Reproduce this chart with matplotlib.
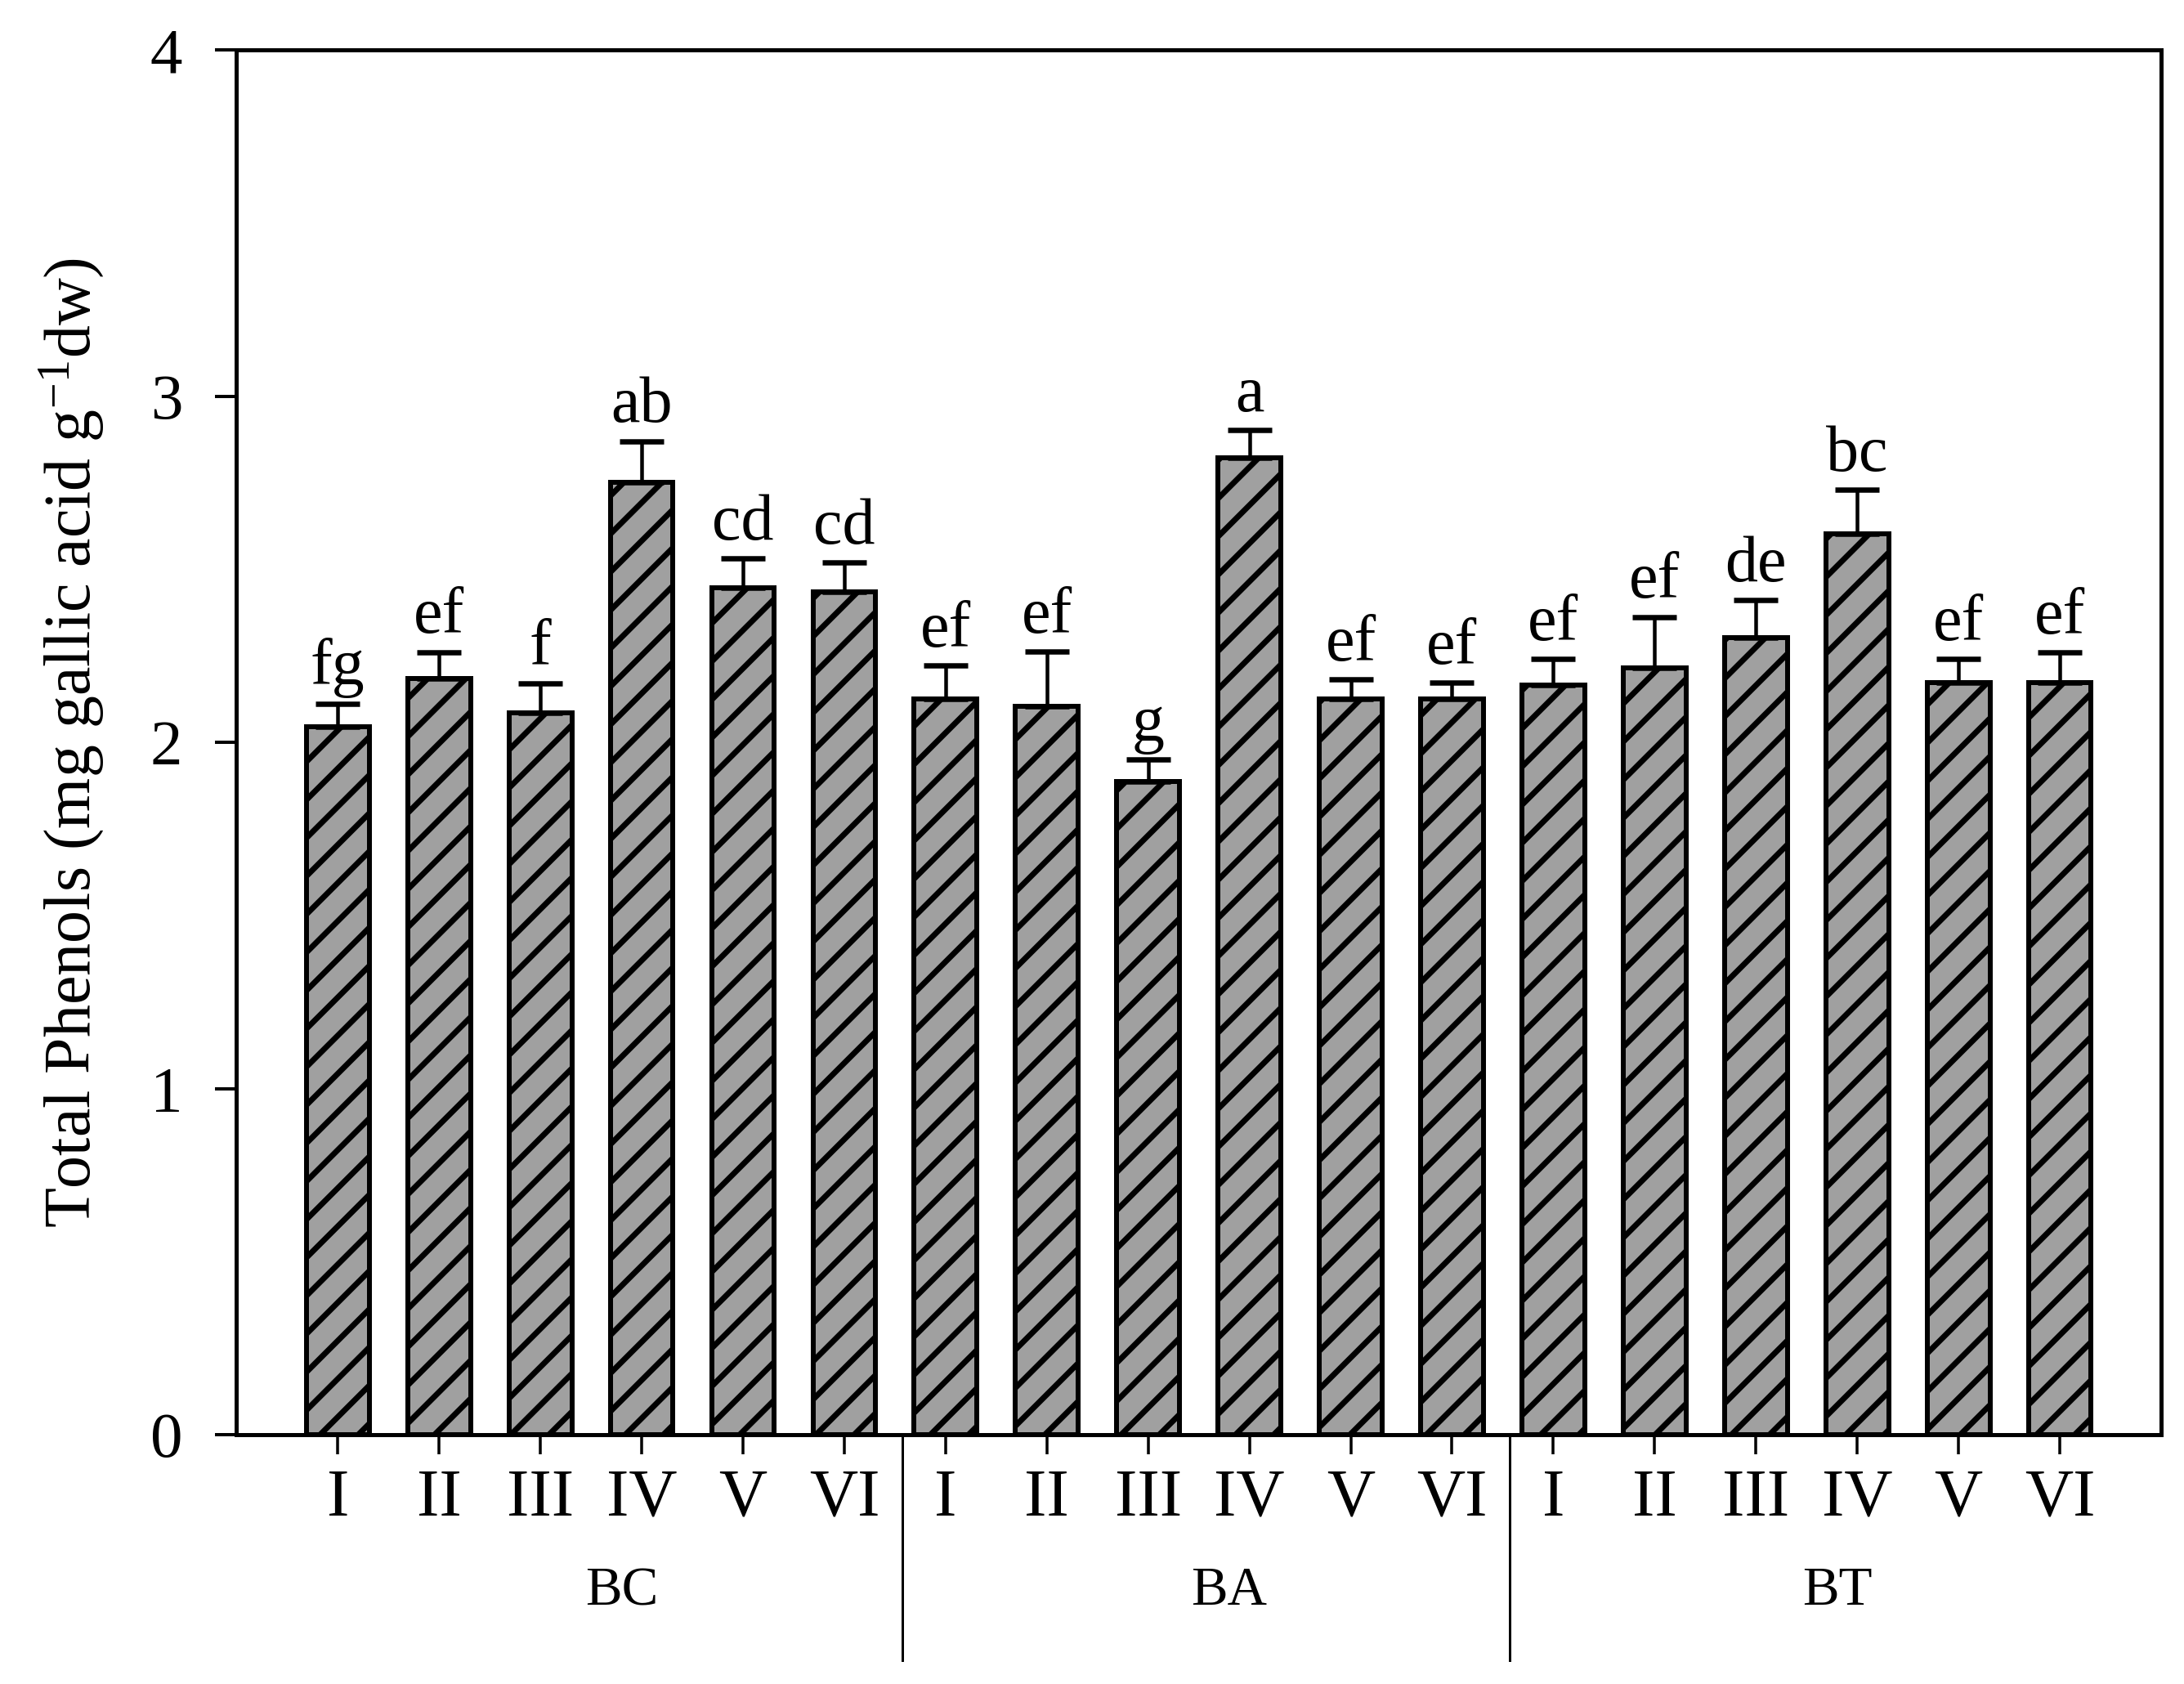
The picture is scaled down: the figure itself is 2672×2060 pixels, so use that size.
import numpy as np
import matplotlib
matplotlib.use("Agg")
import matplotlib.pyplot as plt
import matplotlib.transforms as mtransforms

DPI = 140


def px(v):
    # pixel size -> points at the chosen dpi
    return v * 72.0 / DPI


plt.rcParams['font.family'] = ['Liberation Serif', 'DejaVu Serif']
plt.rcParams['mathtext.fontset'] = 'custom'
plt.rcParams['mathtext.rm'] = 'Liberation Serif'
plt.rcParams['mathtext.it'] = 'Liberation Serif:italic'
plt.rcParams['hatch.linewidth'] = px(7)
plt.rcParams['hatch.color'] = 'black'

# data
groups = ['BC', 'BA', 'BT']
treatments = ['I', 'II', 'III', 'IV', 'V', 'VI']

bc_mean = [2.045, 2.185, 2.084, 2.752, 2.446, 2.434]
bc_err = [0.067, 0.076, 0.087, 0.118, 0.085, 0.086]
bc_letters = ['fg', 'ef', 'f', 'ab', 'cd', 'cd']

ba_mean = [2.125, 2.105, 1.886, 2.821, 2.125, 2.125]
ba_err = [0.096, 0.157, 0.065, 0.080, 0.056, 0.047]
ba_letters = ['ef', 'ef', 'g', 'a', 'ef', 'ef']

bt_mean = [2.165, 2.214, 2.303, 2.603, 2.173, 2.173]
bt_err = [0.076, 0.148, 0.107, 0.127, 0.068, 0.086]
bt_letters = ['ef', 'ef', 'de', 'bc', 'ef', 'ef']

means = np.array(bc_mean + ba_mean + bt_mean)
errs = np.array(bc_err + ba_err + bt_err)
letters = bc_letters + ba_letters + bt_letters
xlabels = treatments * len(groups)
x = np.arange(len(means))

fig = plt.figure(figsize=(2672 / DPI, 2060 / DPI), dpi=DPI)
ax = fig.add_axes([0.1083, 0.148, 0.8812, 0.8224])

ax.bar(x, means, width=0.62, color='#a0a0a0', edgecolor='black',
       linewidth=px(6), hatch='/', zorder=2)
ax.errorbar(x, means, yerr=[np.zeros_like(errs), errs], fmt='none',
            ecolor='black', elinewidth=px(4.5), capsize=px(27),
            capthick=px(6.5), zorder=3)

for xi, m, e, lab in zip(x, means, errs, letters):
    ax.text(xi, m + e + 0.055, lab, ha='center', va='baseline',
            fontsize=px(80))

ax.set_xlim(-1, 18)
ax.set_ylim(0, 4)
ax.set_yticks([0, 1, 2, 3, 4])
ax.set_xticks(x)
ax.set_xticklabels(xlabels)

for s in ax.spines.values():
    s.set_linewidth(px(5))

ax.tick_params(axis='y', direction='out', length=px(26), width=px(4),
               pad=px(40), labelsize=px(79))
ax.tick_params(axis='x', direction='out', length=px(24), width=px(3.5),
               pad=px(17), labelsize=px(82))

ax.set_ylabel('Total Phenols (mg gallic acid g$^{\\mathrm{-1}}$dw)',
              fontsize=px(80), va='center')
ax.yaxis.set_label_coords(-0.0852, 0.5)

# group labels and separators under the axis
trans = mtransforms.blended_transform_factory(ax.transData, ax.transAxes)
n = len(treatments)
for gi, g in enumerate(groups):
    ax.text(gi * n + (n - 1) / 2 + 0.3, -0.113, g, transform=trans,
            ha='center', va='center', fontsize=px(67))
for gi in range(1, len(groups)):
    xs = gi * n - 0.43
    ax.plot([xs, xs], [0, -0.163], transform=trans, color='black',
            linewidth=px(3), clip_on=False)

fig.savefig('out.png', dpi=DPI)
